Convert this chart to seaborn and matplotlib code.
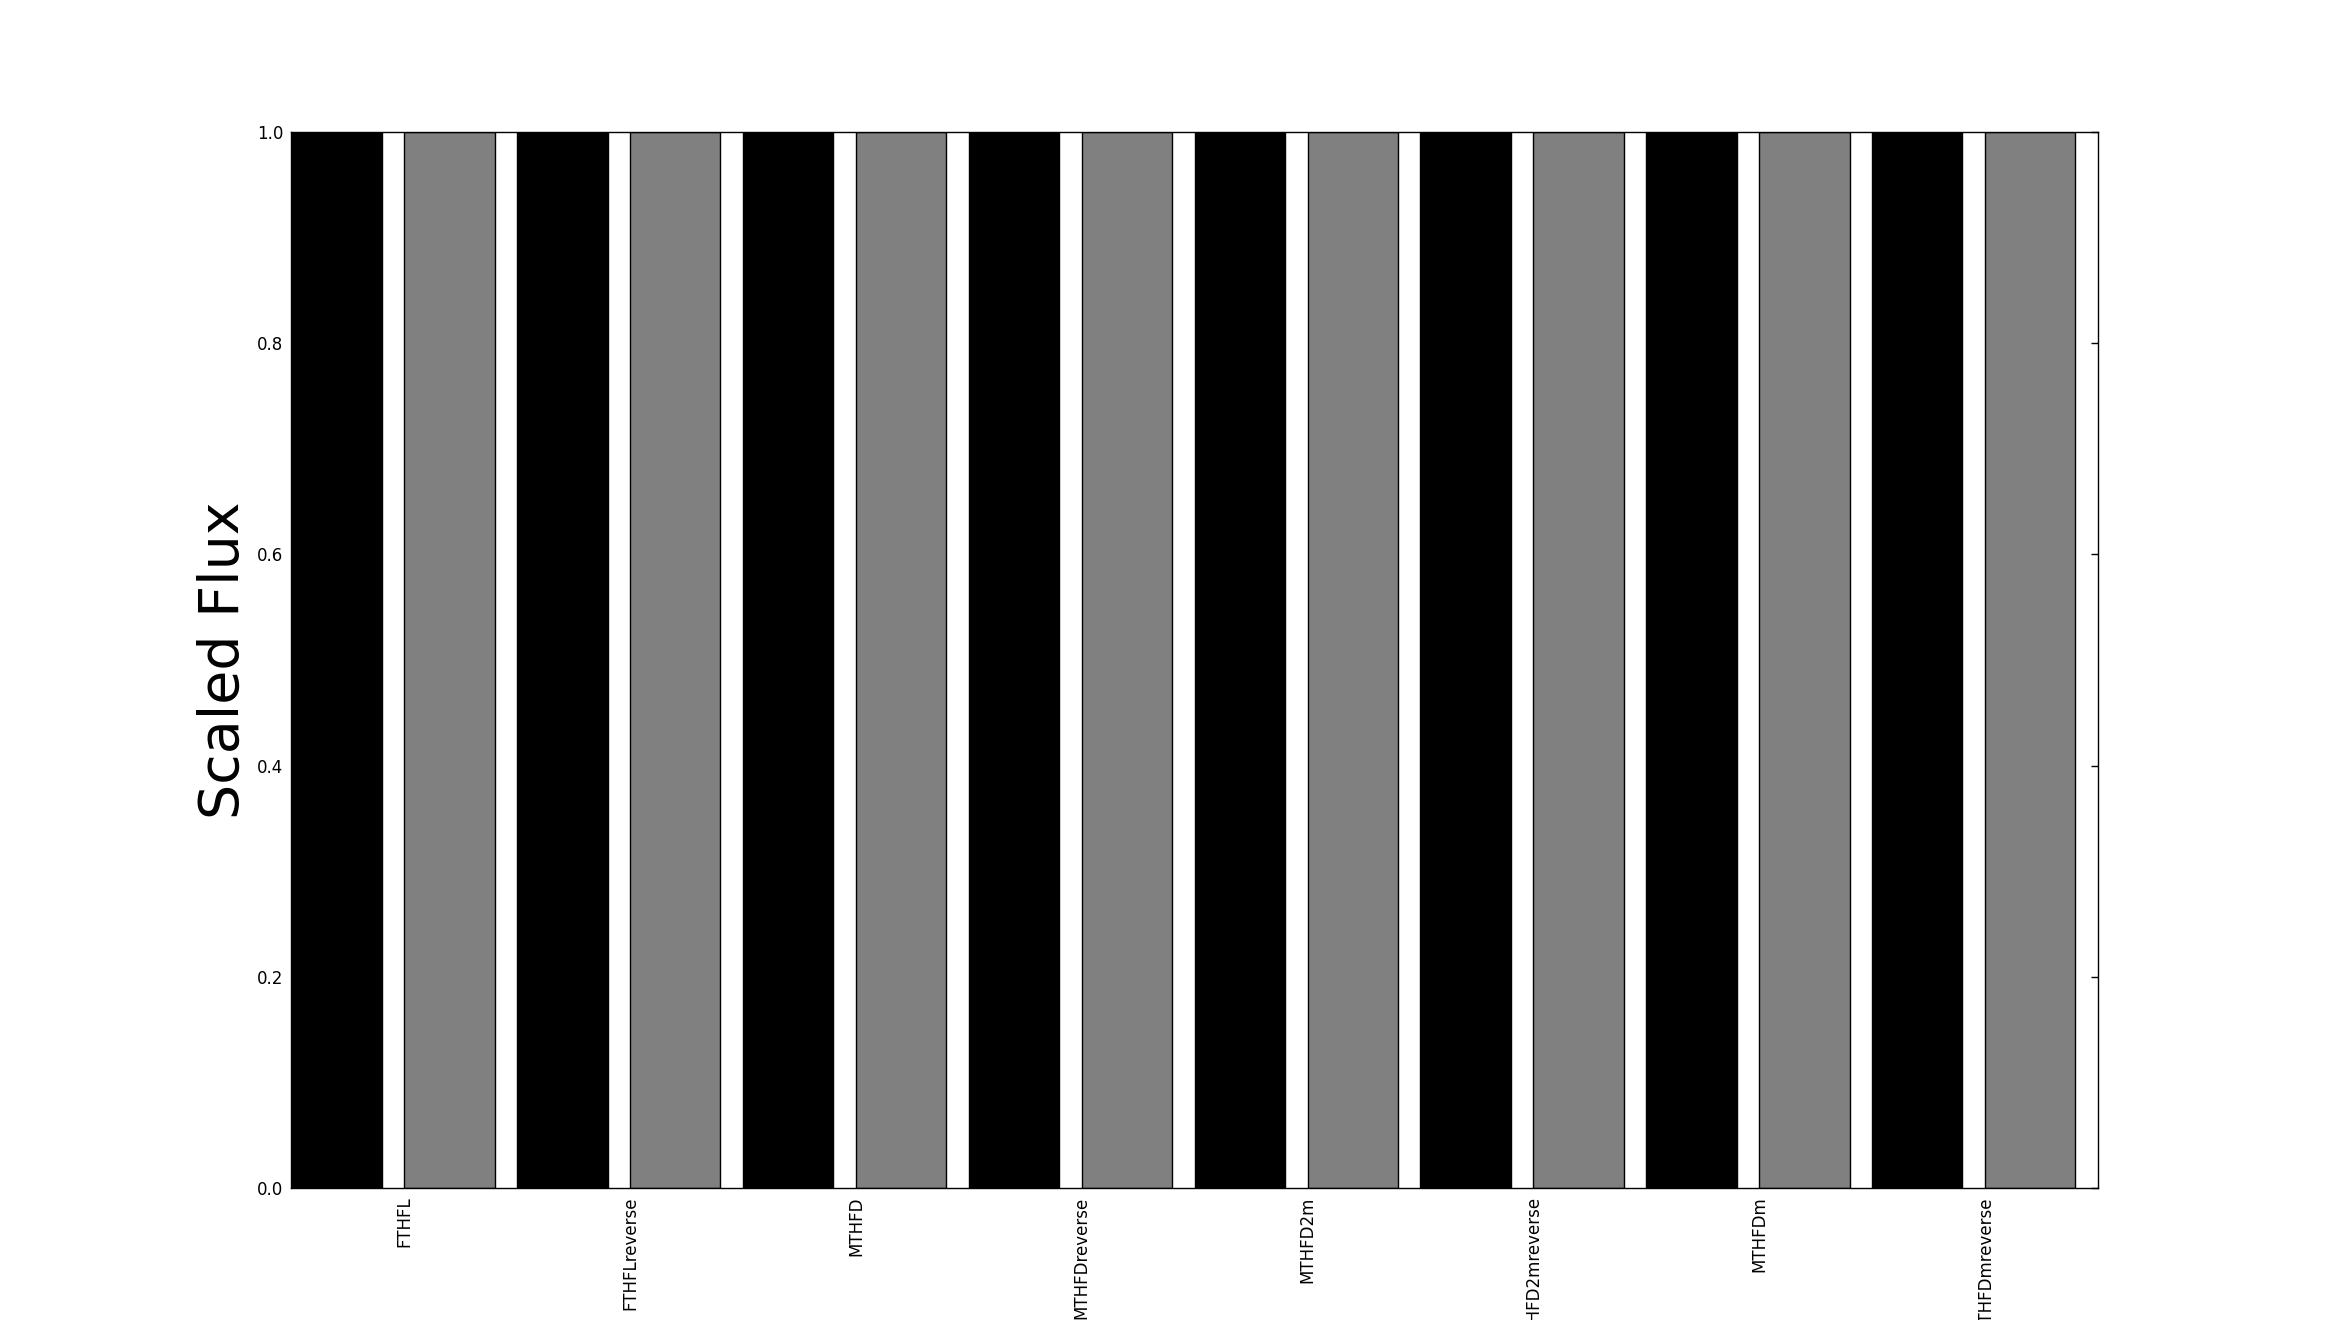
import numpy as np
import pandas as pd
import matplotlib
matplotlib.use("Agg")
import matplotlib.pyplot as plt
import seaborn as sns

# reactions on the x axis
reactions = ["FTHFL", "FTHFLreverse", "MTHFD", "MTHFDreverse",
             "MTHFD2m", "MTHFD2mreverse", "MTHFDm", "MTHFDmreverse"]
# scaled flux for the two conditions (all at 1.0 in the figure)
flux_a = [1.0, 1.0, 1.0, 1.0, 1.0, 1.0, 1.0, 1.0]
flux_b = [1.0, 1.0, 1.0, 1.0, 1.0, 1.0, 1.0, 1.0]
y_ticks = [0.0, 0.2, 0.4, 0.6, 0.8, 1.0]

df = pd.DataFrame({
    "reaction": reactions * 2,
    "flux": flux_a + flux_b,
    "condition": ["A"] * len(reactions) + ["B"] * len(reactions),
})

sns.set_style("white")
plt.rcParams["font.family"] = ["DejaVu Sans"]
plt.rcParams["xtick.direction"] = "in"
plt.rcParams["ytick.direction"] = "in"
# old-style black text everywhere
for key in ["text.color", "axes.labelcolor", "xtick.color", "ytick.color"]:
    plt.rcParams[key] = "black"

fig, ax = plt.subplots(figsize=(23.31, 13.2), dpi=100)
fig.subplots_adjust(left=0.125, right=0.9, bottom=0.1, top=0.9)

sns.barplot(data=df, x="reaction", y="flux", hue="condition",
            palette=["black", "#808080"], width=1.0, gap=0.2,
            edgecolor="black", linewidth=1, saturation=1,
            legend=False, ax=ax)

# tick labels sit at the left edge of the grey bars
pos = np.arange(len(reactions))
ax.set_xticks(pos + 0.05)
ax.set_xticklabels(reactions, rotation=90, fontsize=12)
ax.set_xlim(-0.45, len(reactions) - 0.45)

ax.set_ylim(0, 1.0)
ax.set_yticks(y_ticks)
ax.set_yticklabels([f"{t:.1f}" for t in y_ticks], fontsize=12)
ax.tick_params(axis="both", which="major", length=5, width=1,
               top=True, right=True, color="black", labelcolor="black", pad=6)
ax.tick_params(axis="x", length=0)

ax.set_xlabel("")
ax.set_ylabel("Scaled Flux", fontsize=40, color="black")

for s in ax.spines.values():
    s.set_color("black")
    s.set_linewidth(1)

fig.savefig("out.png", dpi=100)
